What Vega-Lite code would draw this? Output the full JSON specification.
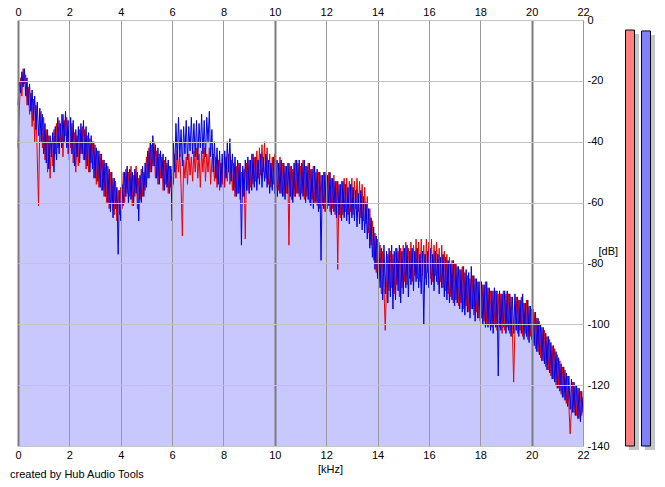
{
  "$schema": "https://vega.github.io/schema/vega-lite/v6.json",
  "autosize": "none",
  "width": 565,
  "height": 426,
  "padding": {"left": 18, "top": 20, "right": 82, "bottom": 41},
  "background": "white",
  "config": {
    "view": {"stroke": null},
    "font": "Liberation Sans",
    "axis": {"labelFont": "Liberation Sans", "labelFontSize": 11, "labelColor": "black", "ticks": false, "domain": false, "titleFont": "Liberation Sans", "titleFontSize": 11, "titleFontWeight": "normal", "titleColor": "black"}
  },
  "title": {"text": "created by Hub Audio Tools", "orient": "bottom", "anchor": "start", "dx": -8, "offset": -5, "baseline": "top", "fontSize": 11, "fontWeight": "normal", "font": "Liberation Sans", "color": "black", "frame": "group"},
  "data": {
    "values": [
      {"f": 0.00, "b": -28, "r": -42}, {"f": 0.05, "b": -20, "r": -30}, {"f": 0.10, "b": -24, "r": -19}, {"f": 0.15, "b": -17, "r": -25},
      {"f": 0.20, "b": -22, "r": -16}, {"f": 0.25, "b": -16, "r": -21}, {"f": 0.30, "b": -25, "r": -18}, {"f": 0.35, "b": -19, "r": -28},
      {"f": 0.40, "b": -28, "r": -22}, {"f": 0.45, "b": -21, "r": -31}, {"f": 0.50, "b": -30, "r": -24}, {"f": 0.55, "b": -23, "r": -35},
      {"f": 0.60, "b": -33, "r": -26}, {"f": 0.65, "b": -25, "r": -40}, {"f": 0.70, "b": -36, "r": -28}, {"f": 0.75, "b": -27, "r": -45},
      {"f": 0.80, "b": -38, "r": -61}, {"f": 0.85, "b": -29, "r": -33}, {"f": 0.90, "b": -40, "r": -30}, {"f": 0.95, "b": -31, "r": -42},
      {"f": 1.00, "b": -44, "r": -32}, {"f": 1.05, "b": -34, "r": -46}, {"f": 1.10, "b": -47, "r": -36}, {"f": 1.15, "b": -36, "r": -50},
      {"f": 1.20, "b": -49, "r": -38}, {"f": 1.25, "b": -38, "r": -52}, {"f": 1.30, "b": -45, "r": -40}, {"f": 1.35, "b": -37, "r": -48},
      {"f": 1.40, "b": -50, "r": -36}, {"f": 1.45, "b": -35, "r": -44}, {"f": 1.50, "b": -46, "r": -34}, {"f": 1.55, "b": -32, "r": -42},
      {"f": 1.60, "b": -44, "r": -33}, {"f": 1.65, "b": -34, "r": -40}, {"f": 1.70, "b": -42, "r": -31}, {"f": 1.75, "b": -31, "r": -45},
      {"f": 1.80, "b": -40, "r": -33}, {"f": 1.85, "b": -30, "r": -38}, {"f": 1.90, "b": -42, "r": -32}, {"f": 1.95, "b": -33, "r": -44},
      {"f": 2.00, "b": -46, "r": -35}, {"f": 2.05, "b": -32, "r": -42}, {"f": 2.10, "b": -44, "r": -34}, {"f": 2.15, "b": -33, "r": -47},
      {"f": 2.20, "b": -48, "r": -37}, {"f": 2.25, "b": -36, "r": -50}, {"f": 2.30, "b": -45, "r": -38}, {"f": 2.35, "b": -35, "r": -48},
      {"f": 2.40, "b": -47, "r": -36}, {"f": 2.45, "b": -34, "r": -44}, {"f": 2.50, "b": -44, "r": -35}, {"f": 2.55, "b": -33, "r": -46},
      {"f": 2.60, "b": -46, "r": -36}, {"f": 2.65, "b": -35, "r": -49}, {"f": 2.70, "b": -48, "r": -38}, {"f": 2.75, "b": -37, "r": -50},
      {"f": 2.80, "b": -50, "r": -39}, {"f": 2.85, "b": -38, "r": -47}, {"f": 2.90, "b": -49, "r": -40}, {"f": 2.95, "b": -40, "r": -52},
      {"f": 3.00, "b": -52, "r": -41}, {"f": 3.05, "b": -42, "r": -54}, {"f": 3.10, "b": -53, "r": -43}, {"f": 3.15, "b": -43, "r": -55},
      {"f": 3.20, "b": -55, "r": -44}, {"f": 3.25, "b": -44, "r": -56}, {"f": 3.30, "b": -56, "r": -46}, {"f": 3.35, "b": -46, "r": -58},
      {"f": 3.40, "b": -58, "r": -47}, {"f": 3.45, "b": -47, "r": -60}, {"f": 3.50, "b": -60, "r": -48}, {"f": 3.55, "b": -49, "r": -62},
      {"f": 3.60, "b": -63, "r": -50}, {"f": 3.65, "b": -50, "r": -60}, {"f": 3.70, "b": -65, "r": -52}, {"f": 3.75, "b": -52, "r": -64},
      {"f": 3.80, "b": -62, "r": -53}, {"f": 3.85, "b": -55, "r": -66}, {"f": 3.90, "b": -77, "r": -56}, {"f": 3.95, "b": -56, "r": -64},
      {"f": 4.00, "b": -66, "r": -55}, {"f": 4.05, "b": -54, "r": -62}, {"f": 4.10, "b": -61, "r": -50}, {"f": 4.15, "b": -50, "r": -60},
      {"f": 4.20, "b": -58, "r": -49}, {"f": 4.25, "b": -48, "r": -57}, {"f": 4.30, "b": -60, "r": -50}, {"f": 4.35, "b": -49, "r": -58},
      {"f": 4.40, "b": -59, "r": -48}, {"f": 4.45, "b": -50, "r": -61}, {"f": 4.50, "b": -61, "r": -51}, {"f": 4.55, "b": -49, "r": -58},
      {"f": 4.60, "b": -57, "r": -48}, {"f": 4.65, "b": -50, "r": -62}, {"f": 4.70, "b": -66, "r": -52}, {"f": 4.75, "b": -51, "r": -59},
      {"f": 4.80, "b": -60, "r": -49}, {"f": 4.85, "b": -48, "r": -58}, {"f": 4.90, "b": -58, "r": -50}, {"f": 4.95, "b": -47, "r": -56},
      {"f": 5.00, "b": -55, "r": -45}, {"f": 5.05, "b": -43, "r": -52}, {"f": 5.10, "b": -52, "r": -42}, {"f": 5.15, "b": -40, "r": -50},
      {"f": 5.20, "b": -50, "r": -41}, {"f": 5.25, "b": -38, "r": -48}, {"f": 5.30, "b": -48, "r": -40}, {"f": 5.35, "b": -41, "r": -52},
      {"f": 5.40, "b": -52, "r": -43}, {"f": 5.45, "b": -42, "r": -54}, {"f": 5.50, "b": -54, "r": -44}, {"f": 5.55, "b": -43, "r": -52},
      {"f": 5.60, "b": -52, "r": -45}, {"f": 5.65, "b": -44, "r": -56}, {"f": 5.70, "b": -56, "r": -46}, {"f": 5.75, "b": -45, "r": -54},
      {"f": 5.80, "b": -55, "r": -47}, {"f": 5.85, "b": -46, "r": -57}, {"f": 5.90, "b": -57, "r": -48}, {"f": 5.95, "b": -48, "r": -55},
      {"f": 6.00, "b": -66, "r": -49}, {"f": 6.05, "b": -40, "r": -54}, {"f": 6.10, "b": -50, "r": -44}, {"f": 6.15, "b": -34, "r": -52},
      {"f": 6.20, "b": -46, "r": -43}, {"f": 6.25, "b": -32, "r": -50}, {"f": 6.30, "b": -45, "r": -44}, {"f": 6.35, "b": -36, "r": -55},
      {"f": 6.40, "b": -48, "r": -71}, {"f": 6.45, "b": -35, "r": -46}, {"f": 6.50, "b": -44, "r": -52}, {"f": 6.55, "b": -33, "r": -45},
      {"f": 6.60, "b": -46, "r": -54}, {"f": 6.65, "b": -35, "r": -44}, {"f": 6.70, "b": -43, "r": -51}, {"f": 6.75, "b": -32, "r": -45},
      {"f": 6.80, "b": -44, "r": -53}, {"f": 6.85, "b": -34, "r": -43}, {"f": 6.90, "b": -45, "r": -50}, {"f": 6.95, "b": -33, "r": -42},
      {"f": 7.00, "b": -46, "r": -52}, {"f": 7.05, "b": -34, "r": -44}, {"f": 7.10, "b": -42, "r": -55}, {"f": 7.15, "b": -31, "r": -43},
      {"f": 7.20, "b": -44, "r": -50}, {"f": 7.25, "b": -33, "r": -42}, {"f": 7.30, "b": -45, "r": -53}, {"f": 7.35, "b": -32, "r": -44},
      {"f": 7.40, "b": -40, "r": -50}, {"f": 7.45, "b": -30, "r": -42}, {"f": 7.50, "b": -45, "r": -54}, {"f": 7.55, "b": -36, "r": -46},
      {"f": 7.60, "b": -50, "r": -44}, {"f": 7.65, "b": -40, "r": -53}, {"f": 7.70, "b": -52, "r": -45}, {"f": 7.75, "b": -42, "r": -55},
      {"f": 7.80, "b": -54, "r": -46}, {"f": 7.85, "b": -43, "r": -56}, {"f": 7.90, "b": -55, "r": -47}, {"f": 7.95, "b": -44, "r": -54},
      {"f": 8.00, "b": -56, "r": -46}, {"f": 8.05, "b": -43, "r": -55}, {"f": 8.10, "b": -52, "r": -45}, {"f": 8.15, "b": -40, "r": -53},
      {"f": 8.20, "b": -50, "r": -44}, {"f": 8.25, "b": -39, "r": -54}, {"f": 8.30, "b": -53, "r": -46}, {"f": 8.35, "b": -44, "r": -56},
      {"f": 8.40, "b": -56, "r": -47}, {"f": 8.45, "b": -45, "r": -58}, {"f": 8.50, "b": -58, "r": -48}, {"f": 8.55, "b": -46, "r": -57},
      {"f": 8.60, "b": -57, "r": -47}, {"f": 8.65, "b": -47, "r": -59}, {"f": 8.70, "b": -74, "r": -50}, {"f": 8.75, "b": -48, "r": -58},
      {"f": 8.80, "b": -58, "r": -49}, {"f": 8.85, "b": -46, "r": -72}, {"f": 8.90, "b": -56, "r": -47}, {"f": 8.95, "b": -45, "r": -56},
      {"f": 9.00, "b": -57, "r": -46}, {"f": 9.05, "b": -46, "r": -55}, {"f": 9.10, "b": -56, "r": -44}, {"f": 9.15, "b": -44, "r": -54},
      {"f": 9.20, "b": -55, "r": -45}, {"f": 9.25, "b": -45, "r": -53}, {"f": 9.30, "b": -56, "r": -43}, {"f": 9.35, "b": -46, "r": -52},
      {"f": 9.40, "b": -54, "r": -42}, {"f": 9.45, "b": -44, "r": -51}, {"f": 9.50, "b": -55, "r": -41}, {"f": 9.55, "b": -45, "r": -50},
      {"f": 9.60, "b": -53, "r": -40}, {"f": 9.65, "b": -44, "r": -52}, {"f": 9.70, "b": -55, "r": -42}, {"f": 9.75, "b": -46, "r": -54},
      {"f": 9.80, "b": -57, "r": -44}, {"f": 9.85, "b": -47, "r": -55}, {"f": 9.90, "b": -56, "r": -45}, {"f": 9.95, "b": -45, "r": -54},
      {"f": 10.00, "b": -57, "r": -44}, {"f": 10.05, "b": -46, "r": -55}, {"f": 10.10, "b": -58, "r": -46}, {"f": 10.15, "b": -47, "r": -56},
      {"f": 10.20, "b": -57, "r": -45}, {"f": 10.25, "b": -46, "r": -57}, {"f": 10.30, "b": -58, "r": -47}, {"f": 10.35, "b": -47, "r": -58},
      {"f": 10.40, "b": -59, "r": -48}, {"f": 10.45, "b": -48, "r": -57}, {"f": 10.50, "b": -57, "r": -47}, {"f": 10.55, "b": -47, "r": -74},
      {"f": 10.60, "b": -58, "r": -48}, {"f": 10.65, "b": -48, "r": -59}, {"f": 10.70, "b": -60, "r": -49}, {"f": 10.75, "b": -47, "r": -58},
      {"f": 10.80, "b": -58, "r": -46}, {"f": 10.85, "b": -46, "r": -57}, {"f": 10.90, "b": -57, "r": -47}, {"f": 10.95, "b": -46, "r": -58},
      {"f": 11.00, "b": -59, "r": -48}, {"f": 11.05, "b": -47, "r": -57}, {"f": 11.10, "b": -58, "r": -46}, {"f": 11.15, "b": -46, "r": -59},
      {"f": 11.20, "b": -60, "r": -48}, {"f": 11.25, "b": -48, "r": -58}, {"f": 11.30, "b": -59, "r": -47}, {"f": 11.35, "b": -47, "r": -60},
      {"f": 11.40, "b": -61, "r": -49}, {"f": 11.45, "b": -49, "r": -59}, {"f": 11.50, "b": -62, "r": -48}, {"f": 11.55, "b": -48, "r": -60},
      {"f": 11.60, "b": -60, "r": -50}, {"f": 11.65, "b": -49, "r": -61}, {"f": 11.70, "b": -63, "r": -50}, {"f": 11.75, "b": -50, "r": -62},
      {"f": 11.80, "b": -79, "r": -51}, {"f": 11.85, "b": -51, "r": -61}, {"f": 11.90, "b": -62, "r": -50}, {"f": 11.95, "b": -50, "r": -63},
      {"f": 12.00, "b": -63, "r": -51}, {"f": 12.05, "b": -51, "r": -62}, {"f": 12.10, "b": -61, "r": -50}, {"f": 12.15, "b": -50, "r": -63},
      {"f": 12.20, "b": -64, "r": -52}, {"f": 12.25, "b": -52, "r": -62}, {"f": 12.30, "b": -63, "r": -51}, {"f": 12.35, "b": -53, "r": -64},
      {"f": 12.40, "b": -65, "r": -53}, {"f": 12.45, "b": -53, "r": -82}, {"f": 12.50, "b": -64, "r": -54}, {"f": 12.55, "b": -54, "r": -65},
      {"f": 12.60, "b": -66, "r": -53}, {"f": 12.65, "b": -53, "r": -64}, {"f": 12.70, "b": -65, "r": -52}, {"f": 12.75, "b": -54, "r": -63},
      {"f": 12.80, "b": -66, "r": -52}, {"f": 12.85, "b": -55, "r": -64}, {"f": 12.90, "b": -67, "r": -53}, {"f": 12.95, "b": -54, "r": -63},
      {"f": 13.00, "b": -65, "r": -52}, {"f": 13.05, "b": -55, "r": -64}, {"f": 13.10, "b": -66, "r": -53}, {"f": 13.15, "b": -56, "r": -62},
      {"f": 13.20, "b": -68, "r": -52}, {"f": 13.25, "b": -57, "r": -63}, {"f": 13.30, "b": -67, "r": -53}, {"f": 13.35, "b": -56, "r": -65},
      {"f": 13.40, "b": -69, "r": -54}, {"f": 13.45, "b": -58, "r": -66}, {"f": 13.50, "b": -70, "r": -55}, {"f": 13.55, "b": -60, "r": -67},
      {"f": 13.60, "b": -72, "r": -58}, {"f": 13.65, "b": -62, "r": -70}, {"f": 13.70, "b": -75, "r": -62}, {"f": 13.75, "b": -65, "r": -74},
      {"f": 13.80, "b": -78, "r": -66}, {"f": 13.85, "b": -68, "r": -79}, {"f": 13.90, "b": -82, "r": -70}, {"f": 13.95, "b": -71, "r": -83},
      {"f": 14.00, "b": -85, "r": -72}, {"f": 14.05, "b": -73, "r": -86}, {"f": 14.10, "b": -88, "r": -74}, {"f": 14.15, "b": -75, "r": -90},
      {"f": 14.20, "b": -92, "r": -76}, {"f": 14.25, "b": -74, "r": -88}, {"f": 14.30, "b": -90, "r": -102}, {"f": 14.35, "b": -76, "r": -87},
      {"f": 14.40, "b": -93, "r": -77}, {"f": 14.45, "b": -75, "r": -89}, {"f": 14.50, "b": -91, "r": -76}, {"f": 14.55, "b": -74, "r": -88},
      {"f": 14.60, "b": -95, "r": -77}, {"f": 14.65, "b": -76, "r": -90}, {"f": 14.70, "b": -92, "r": -75}, {"f": 14.75, "b": -75, "r": -87},
      {"f": 14.80, "b": -89, "r": -76}, {"f": 14.85, "b": -74, "r": -91}, {"f": 14.90, "b": -93, "r": -75}, {"f": 14.95, "b": -76, "r": -88},
      {"f": 15.00, "b": -90, "r": -74}, {"f": 15.05, "b": -75, "r": -86}, {"f": 15.10, "b": -88, "r": -73}, {"f": 15.15, "b": -74, "r": -87},
      {"f": 15.20, "b": -91, "r": -75}, {"f": 15.25, "b": -76, "r": -85}, {"f": 15.30, "b": -87, "r": -73}, {"f": 15.35, "b": -75, "r": -86},
      {"f": 15.40, "b": -89, "r": -74}, {"f": 15.45, "b": -76, "r": -84}, {"f": 15.50, "b": -86, "r": -72}, {"f": 15.55, "b": -75, "r": -85},
      {"f": 15.60, "b": -88, "r": -73}, {"f": 15.65, "b": -77, "r": -86}, {"f": 15.70, "b": -90, "r": -72}, {"f": 15.75, "b": -76, "r": -84},
      {"f": 15.80, "b": -100, "r": -74}, {"f": 15.85, "b": -77, "r": -85}, {"f": 15.90, "b": -87, "r": -72}, {"f": 15.95, "b": -76, "r": -83},
      {"f": 16.00, "b": -88, "r": -73}, {"f": 16.05, "b": -75, "r": -85}, {"f": 16.10, "b": -87, "r": -72}, {"f": 16.15, "b": -77, "r": -86},
      {"f": 16.20, "b": -89, "r": -74}, {"f": 16.25, "b": -76, "r": -84}, {"f": 16.30, "b": -86, "r": -73}, {"f": 16.35, "b": -77, "r": -87},
      {"f": 16.40, "b": -90, "r": -75}, {"f": 16.45, "b": -78, "r": -86}, {"f": 16.50, "b": -88, "r": -74}, {"f": 16.55, "b": -77, "r": -88},
      {"f": 16.60, "b": -91, "r": -76}, {"f": 16.65, "b": -78, "r": -89}, {"f": 16.70, "b": -92, "r": -77}, {"f": 16.75, "b": -79, "r": -90},
      {"f": 16.80, "b": -93, "r": -78}, {"f": 16.85, "b": -80, "r": -91}, {"f": 16.90, "b": -92, "r": -79}, {"f": 16.95, "b": -79, "r": -93},
      {"f": 17.00, "b": -94, "r": -80}, {"f": 17.05, "b": -80, "r": -92}, {"f": 17.10, "b": -93, "r": -81}, {"f": 17.15, "b": -81, "r": -94},
      {"f": 17.20, "b": -95, "r": -82}, {"f": 17.25, "b": -82, "r": -93}, {"f": 17.30, "b": -96, "r": -81}, {"f": 17.35, "b": -81, "r": -95},
      {"f": 17.40, "b": -97, "r": -83}, {"f": 17.45, "b": -82, "r": -94}, {"f": 17.50, "b": -96, "r": -84}, {"f": 17.55, "b": -83, "r": -96},
      {"f": 17.60, "b": -98, "r": -85}, {"f": 17.65, "b": -81, "r": -95}, {"f": 17.70, "b": -95, "r": -84}, {"f": 17.75, "b": -84, "r": -97},
      {"f": 17.80, "b": -99, "r": -85}, {"f": 17.85, "b": -85, "r": -96}, {"f": 17.90, "b": -98, "r": -86}, {"f": 17.95, "b": -86, "r": -98},
      {"f": 18.00, "b": -99, "r": -86}, {"f": 18.05, "b": -86, "r": -98}, {"f": 18.10, "b": -100, "r": -87}, {"f": 18.15, "b": -87, "r": -99},
      {"f": 18.20, "b": -101, "r": -86}, {"f": 18.25, "b": -86, "r": -100}, {"f": 18.30, "b": -101, "r": -88}, {"f": 18.35, "b": -88, "r": -100},
      {"f": 18.40, "b": -102, "r": -89}, {"f": 18.45, "b": -89, "r": -101}, {"f": 18.50, "b": -103, "r": -89}, {"f": 18.55, "b": -88, "r": -100},
      {"f": 18.60, "b": -101, "r": -89}, {"f": 18.65, "b": -89, "r": -102}, {"f": 18.70, "b": -117, "r": -90}, {"f": 18.75, "b": -89, "r": -101},
      {"f": 18.80, "b": -102, "r": -90}, {"f": 18.85, "b": -90, "r": -103}, {"f": 18.90, "b": -101, "r": -89}, {"f": 18.95, "b": -89, "r": -102},
      {"f": 19.00, "b": -103, "r": -90}, {"f": 19.05, "b": -89, "r": -101}, {"f": 19.10, "b": -102, "r": -90}, {"f": 19.15, "b": -90, "r": -103},
      {"f": 19.20, "b": -104, "r": -91}, {"f": 19.25, "b": -91, "r": -102}, {"f": 19.30, "b": -103, "r": -119}, {"f": 19.35, "b": -90, "r": -101},
      {"f": 19.40, "b": -102, "r": -91}, {"f": 19.45, "b": -91, "r": -103}, {"f": 19.50, "b": -104, "r": -92}, {"f": 19.55, "b": -92, "r": -102},
      {"f": 19.60, "b": -103, "r": -91}, {"f": 19.65, "b": -90, "r": -104}, {"f": 19.70, "b": -105, "r": -93}, {"f": 19.75, "b": -93, "r": -103},
      {"f": 19.80, "b": -104, "r": -92}, {"f": 19.85, "b": -92, "r": -105}, {"f": 19.90, "b": -106, "r": -94}, {"f": 19.95, "b": -94, "r": -104},
      {"f": 20.00, "b": -105, "r": -95}, {"f": 20.05, "b": -95, "r": -106}, {"f": 20.10, "b": -107, "r": -96}, {"f": 20.15, "b": -96, "r": -108},
      {"f": 20.20, "b": -109, "r": -98}, {"f": 20.25, "b": -98, "r": -109}, {"f": 20.30, "b": -110, "r": -99}, {"f": 20.35, "b": -100, "r": -111},
      {"f": 20.40, "b": -112, "r": -101}, {"f": 20.45, "b": -101, "r": -112}, {"f": 20.50, "b": -113, "r": -102}, {"f": 20.55, "b": -103, "r": -114},
      {"f": 20.60, "b": -115, "r": -104}, {"f": 20.65, "b": -104, "r": -115}, {"f": 20.70, "b": -116, "r": -105}, {"f": 20.75, "b": -106, "r": -117},
      {"f": 20.80, "b": -118, "r": -107}, {"f": 20.85, "b": -107, "r": -118}, {"f": 20.90, "b": -119, "r": -108}, {"f": 20.95, "b": -109, "r": -120},
      {"f": 21.00, "b": -121, "r": -110}, {"f": 21.05, "b": -111, "r": -121}, {"f": 21.10, "b": -122, "r": -112}, {"f": 21.15, "b": -113, "r": -123},
      {"f": 21.20, "b": -124, "r": -114}, {"f": 21.25, "b": -114, "r": -124}, {"f": 21.30, "b": -125, "r": -115}, {"f": 21.35, "b": -116, "r": -126},
      {"f": 21.40, "b": -127, "r": -117}, {"f": 21.45, "b": -117, "r": -127}, {"f": 21.50, "b": -128, "r": -136}, {"f": 21.55, "b": -118, "r": -128},
      {"f": 21.60, "b": -129, "r": -119}, {"f": 21.65, "b": -119, "r": -129}, {"f": 21.70, "b": -130, "r": -120}, {"f": 21.75, "b": -120, "r": -130},
      {"f": 21.80, "b": -131, "r": -121}, {"f": 21.85, "b": -121, "r": -131}, {"f": 21.90, "b": -132, "r": -122}, {"f": 21.95, "b": -122, "r": -130},
      {"f": 22.00, "b": -129, "r": -124}
    ]
  },
  "resolve": {"scale": {"x": "independent"}},
  "encoding": {
    "y": {"field": "db", "type": "quantitative", "scale": {"domain": [-140, 0], "nice": false, "zero": false},
      "axis": {"orient": "right", "values": [0, -20, -40, -60, -80, -100, -120, -140], "labelExpr": "toString(datum.value)", "labelPadding": 4, "labelAlign": "left", "labelFlush": false, "labelOverlap": false, "labelBound": false,
        "grid": true, "zindex": 1, "gridColor": "#c4c4c4", "gridWidth": 1,
        "title": "[dB]", "titleAngle": 0, "titleX": 15, "titleY": 231, "titleAlign": "left", "titleBaseline": "middle"}}
  },
  "layer": [
    {
      "transform": [{"fold": ["b", "r"], "as": ["ch", "db"]}, {"filter": "datum.ch === 'b'"}],
      "mark": {"type": "area", "color": "#c8c8ff", "opacity": 1},
      "encoding": {
        "x": {"field": "f", "type": "quantitative", "scale": {"domain": [0, 22], "nice": false, "zero": false},
          "axis": {"orient": "bottom", "values": [0, 2, 4, 6, 8, 10, 12, 14, 16, 18, 20, 22], "labelPadding": 3, "labelFlush": false, "labelOverlap": false, "labelBound": false,
            "grid": true, "zindex": 1,
            "gridColor": {"condition": {"test": "datum.value % 10 === 0", "value": "#7c7c7c"}, "value": "#9a9a9a"},
            "gridWidth": {"condition": {"test": "datum.value % 10 === 0", "value": 2}, "value": 1},
            "title": "[kHz]", "titleX": 312, "titleY": 23, "titleAlign": "center", "titleBaseline": "middle", "titlePadding": 0}},
        "y2": {"datum": -140}
      }
    },
    {
      "transform": [{"fold": ["b", "r"], "as": ["ch", "db"]}, {"filter": "datum.ch === 'r'"}],
      "mark": {"type": "area", "color": "#c8c8ff", "opacity": 1},
      "encoding": {
        "x": {"field": "f", "type": "quantitative", "scale": {"domain": [0, 22], "nice": false, "zero": false},
          "axis": {"orient": "top", "values": [0, 2, 4, 6, 8, 10, 12, 14, 16, 18, 20, 22], "labelPadding": 3, "labelFlush": false, "labelOverlap": false, "labelBound": false, "grid": false, "title": null}},
        "y2": {"datum": -140}
      }
    },
    {
      "transform": [{"fold": ["b", "r"], "as": ["ch", "db"]}, {"filter": "datum.ch === 'r'"}],
      "mark": {"type": "line", "color": "#ee0000", "strokeWidth": 1},
      "encoding": {
        "x": {"field": "f", "type": "quantitative", "scale": {"domain": [0, 22], "nice": false, "zero": false}, "axis": null}
      }
    },
    {
      "transform": [{"fold": ["b", "r"], "as": ["ch", "db"]}, {"filter": "datum.ch === 'b'"}],
      "mark": {"type": "line", "color": "#0000e6", "strokeWidth": 1},
      "encoding": {
        "x": {"field": "f", "type": "quantitative", "scale": {"domain": [0, 22], "nice": false, "zero": false}, "axis": null}
      }
    },
    {
      "data": {"values": [{"ch": "L", "db": -3.3}, {"ch": "R", "db": -3.6}]},
      "mark": {"type": "bar", "width": 10, "color": "#c4c4c4", "xOffset": 4, "yOffset": 4, "y2Offset": 4},
      "encoding": {
        "x": {"field": "ch", "type": "nominal", "scale": {"type": "point", "range": [612, 628], "padding": 0}, "axis": null},
        "y2": {"datum": -140}
      }
    },
    {
      "data": {"values": [{"ch": "L", "db": -3.3}, {"ch": "R", "db": -3.6}]},
      "mark": {"type": "bar", "width": 9, "stroke": "black", "strokeWidth": 1},
      "encoding": {
        "x": {"field": "ch", "type": "nominal", "scale": {"type": "point", "range": [612, 628], "padding": 0}, "axis": null},
        "y2": {"datum": -140},
        "color": {"field": "ch", "type": "nominal", "scale": {"domain": ["L", "R"], "range": ["#ff8080", "#8080ff"]}, "legend": null}
      }
    }
  ]
}
